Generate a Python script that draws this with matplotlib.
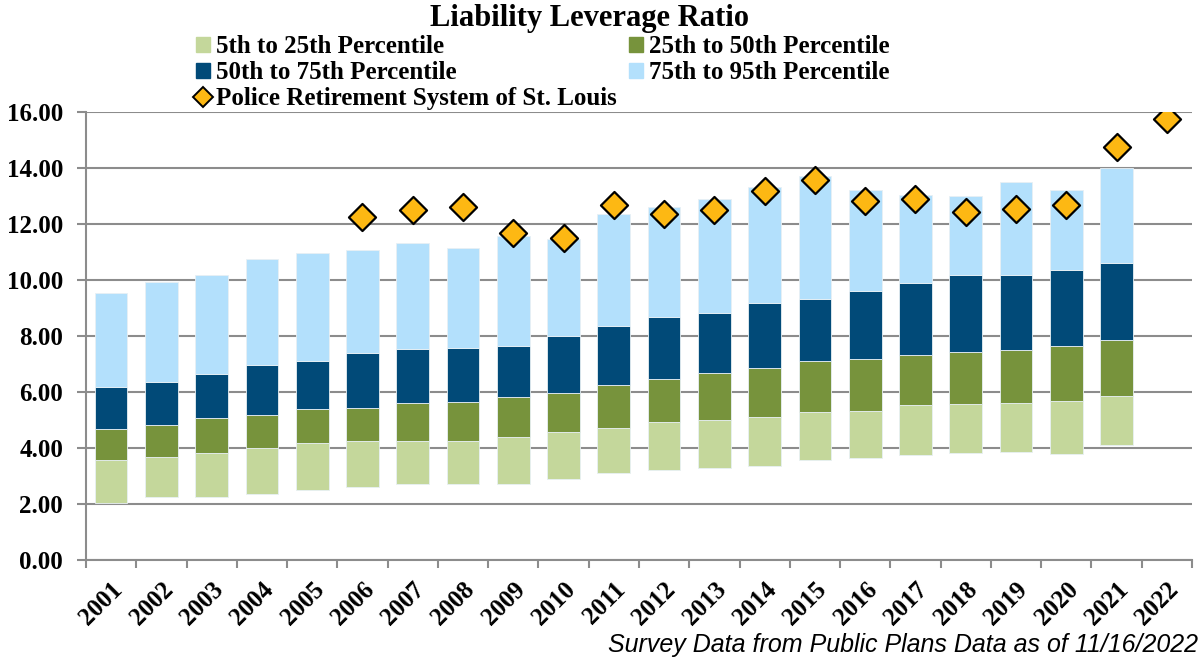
import numpy as np
import matplotlib
matplotlib.use("Agg")
import matplotlib.pyplot as plt
from matplotlib.lines import Line2D
from matplotlib.patches import Patch

# percentile values (2001-2021), plus the plan line (2006-2022)
years = [str(y) for y in range(2001, 2023)]
p05 = [2.02, 2.26, 2.26, 2.35, 2.49, 2.62, 2.73, 2.71, 2.71, 2.90, 3.12,
       3.23, 3.29, 3.36, 3.57, 3.65, 3.75, 3.82, 3.86, 3.80, 4.12]
p25 = [3.56, 3.67, 3.82, 4.00, 4.17, 4.25, 4.25, 4.25, 4.38, 4.57, 4.70,
       4.94, 5.00, 5.12, 5.27, 5.32, 5.52, 5.57, 5.62, 5.68, 5.85]
p50 = [4.68, 4.81, 5.06, 5.19, 5.38, 5.44, 5.62, 5.64, 5.81, 5.96, 6.24,
       6.46, 6.67, 6.86, 7.10, 7.17, 7.32, 7.42, 7.49, 7.63, 7.87]
p75 = [6.19, 6.36, 6.65, 6.96, 7.12, 7.39, 7.54, 7.57, 7.64, 7.99, 8.35,
       8.67, 8.81, 9.19, 9.31, 9.62, 9.88, 10.19, 10.19, 10.35, 10.61]
p95 = [9.52, 9.93, 10.18, 10.76, 10.96, 11.06, 11.33, 11.14, 11.56, 11.46, 12.36,
       12.60, 12.89, 13.32, 13.70, 13.20, 13.04, 13.00, 13.49, 13.21, 14.00]
plan_years = [str(y) for y in range(2006, 2023)]
plan = [12.24, 12.49, 12.60, 11.67, 11.48, 12.67, 12.36, 12.51, 13.18, 13.57,
        12.82, 12.90, 12.43, 12.55, 12.68, 14.73, 15.73]

labels = ["5th to 25th Percentile", "25th to 50th Percentile",
          "50th to 75th Percentile", "75th to 95th Percentile"]
colors = ["#C4D79B", "#77933C", "#014A78", "#B3E0FC"]
plan_label = "Police Retirement System of St. Louis"

serif = "Liberation Serif"
grid_c = "#8C8C8C"

fig = plt.figure(figsize=(12.04, 6.62), dpi=100)
ax = fig.add_axes([0.0714, 0.154, 0.9186, 0.677])

x = np.arange(len(p05)) + 0.5
bounds = [p05, p25, p50, p75, p95]
for i in range(4):
    lo = np.array(bounds[i])
    hi = np.array(bounds[i + 1])
    ax.bar(x, hi - lo, bottom=lo, width=0.65, color=colors[i],
           edgecolor="#E8F0F4", linewidth=0.6, zorder=3)

px = np.array([years.index(y) for y in plan_years]) + 0.5
ax.scatter(px, plan, marker="D", s=190, color="#FDB813", edgecolor="black",
           linewidth=1.6, zorder=5)

ax.set_xlim(0, len(years))
ax.set_ylim(0, 16)
ax.set_yticks(np.arange(0, 16.1, 2))
ax.set_yticklabels([f"{v:.2f}" for v in np.arange(0, 16.1, 2)],
                   fontfamily=serif, fontweight="bold", fontsize=18)
ax.set_xticks(np.arange(len(years)) + 0.5)
ax.set_xticklabels(years, rotation=45, ha="right", rotation_mode="anchor",
                   fontfamily=serif, fontweight="bold", fontsize=18)
ax.set_xticks(np.arange(len(years) + 1), minor=True)
ax.tick_params(axis="x", which="major", length=0, pad=13)
ax.tick_params(axis="x", which="minor", length=6, width=1.5, color=grid_c)
ax.tick_params(axis="y", length=6.5, width=1.5, color=grid_c, pad=10)

ax.grid(axis="y", color=grid_c, linewidth=1.5, zorder=0)
ax.set_axisbelow(True)
for s in ["top", "right"]:
    ax.spines[s].set_visible(False)
for s in ["left", "bottom"]:
    ax.spines[s].set_color(grid_c)
    ax.spines[s].set_linewidth(1.5)

fig.text(0.49, 0.972, "Liability Leverage Ratio", ha="center", va="center",
         fontfamily=serif, fontweight="bold", fontsize=22)

handles = [Patch(color=colors[0]), Patch(color=colors[2]),
           Line2D([], [], marker="D", linestyle="none", markersize=10,
                  markerfacecolor="#FDB813", markeredgecolor="black",
                  markeredgewidth=1.4),
           Patch(color=colors[1]), Patch(color=colors[3])]
names = [labels[0], labels[2], plan_label, labels[1], labels[3]]
fig.legend(handles, names, ncol=2, loc="upper left", bbox_to_anchor=(0.1525, 0.966),
           frameon=False, handlelength=0.55, handleheight=0.55, handletextpad=0.25,
           columnspacing=0.48, labelspacing=0.12, borderpad=0,
           prop={"family": serif, "weight": "bold", "size": 18})

fig.text(0.995, 0.025, "Survey Data from Public Plans Data as of 11/16/2022",
         ha="right", va="center", fontfamily="Liberation Sans",
         fontstyle="italic", fontsize=18)

fig.savefig("out.png", dpi=100)
